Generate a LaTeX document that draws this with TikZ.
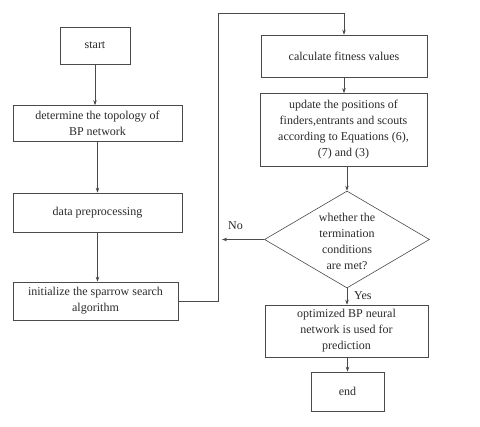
\documentclass[tikz,border=0pt]{standalone}
\usepackage{fontspec}
\setmainfont{Liberation Serif}
\usetikzlibrary{arrows.meta,shapes.geometric,calc}
\definecolor{lc}{HTML}{4A4A4A}
\definecolor{tc}{HTML}{2A2A2A}
\begin{document}
\begin{tikzpicture}[x=1pt,y=-1pt,
  box/.style={draw=lc,line width=0.6pt,inner sep=0pt,align=center,text=tc,
    font=\fontsize{12}{16}\selectfont},
  dia/.style={draw=lc,line width=0.6pt,diamond,inner sep=0pt,minimum width=165pt,minimum height=97pt},
  lbl/.style={text=tc,font=\fontsize{12}{16}\selectfont,inner sep=0pt,align=center},
  conn/.style={draw=lc,line width=0.6pt,-{Stealth[length=5pt,width=3.5pt]}}]
\useasboundingbox (0,0) rectangle (480,427);
\node[box,minimum width=70pt,minimum height=37pt] (start) at (95,45.5) {start};
\node[box,minimum width=169pt,minimum height=36pt] (topo) at (97.5,123.5) {determine the topology of\\BP network};
\node[box,minimum width=169pt,minimum height=39pt] (data) at (97.5,212.5) {data preprocessing};
\node[box,minimum width=165pt,minimum height=38pt] (init) at (95.5,301) {initialize the sparrow search\\algorithm};
\node[box,minimum width=166pt,minimum height=42pt] (calc) at (344,56) {calculate fitness values};
\node[box,minimum width=167pt,minimum height=73pt] (upd) at (343.5,130) {update the positions of\\finders,entrants and scouts\\according to Equations (6),\\(7) and (3)};
\node[dia] (dq) at (347,239.5) {};
\node[lbl] (dqt) at (347,241) {whether the\\termination\\conditions\\are met?};
\node[box,minimum width=163pt,minimum height=52pt] (opt) at (346.5,331) {optimized BP neural\\network is used for\\prediction};
\node[box,minimum width=73pt,minimum height=39pt] (end) at (347.5,391.5) {end};
\coordinate (loop) at (218,13);
\coordinate (noend) at (222,239.5);
\node[lbl,anchor=west] (no) at (228,226) {No};
\node[lbl,anchor=west] (yes) at (354,296) {Yes};
\draw[conn] (start.south) -- (start.south |- topo.north);
\draw[conn] (topo.south) -- (topo.south |- data.north);
\draw[conn] (data.south) -- (data.south |- init.north);
\draw[conn] (init.east) -| (loop) -| (calc.north);
\draw[conn] (calc.south) -- (calc.south |- upd.north);
\draw[conn] (dq.north |- upd.south) -- (dq.north);
\draw[conn] (dq.south) -- (dq.south |- opt.north);
\draw[conn] (dq.west) -- (noend);
\draw[conn] (opt.south -| end.north) -- (end.north);
\end{tikzpicture}
\end{document}
